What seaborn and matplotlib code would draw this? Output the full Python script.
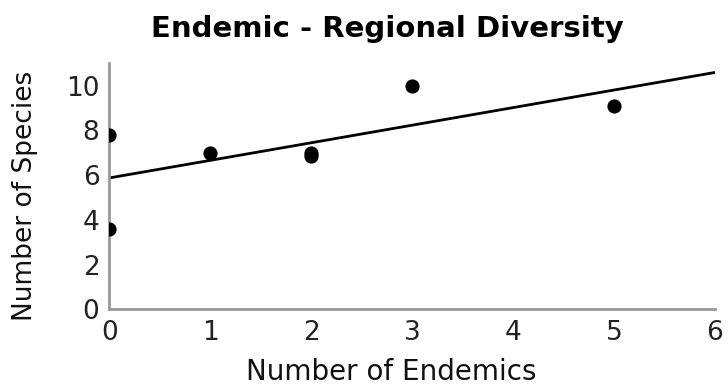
import numpy as np
import pandas as pd
import matplotlib
matplotlib.use("Agg")
import matplotlib.pyplot as plt
import seaborn as sns

# values
endemics = [0, 0, 1, 2, 2, 3, 5]
species = [7.8, 3.6, 7.0, 7.0, 6.85, 10.0, 9.1]
x_ticks = [0, 1, 2, 3, 4, 5, 6]
y_ticks = [0, 2, 4, 6, 8, 10]


def plot_endemic_diversity(df):
    """Scatter of species vs endemics with a fitted line."""
    sns.set_style("white")
    plt.rcParams['font.family'] = ['DejaVu Sans']

    fig = plt.figure(figsize=(7.28, 3.89), dpi=100)
    ax = fig.add_axes([0.15, 0.205, 0.832, 0.632])
    ax.set_xlim(0, 6)
    ax.set_ylim(0, 11)

    sns.regplot(x='endemics', y='species', data=df, ax=ax, ci=None,
                truncate=False, color='black',
                scatter_kws={'s': 85, 'alpha': 1, 'zorder': 3},
                line_kws={'linewidth': 2})

    ax.set_xlim(0, 6)
    ax.set_ylim(0, 11)
    ax.set_xticks(x_ticks)
    ax.set_yticks(y_ticks)
    ax.tick_params(labelsize=19, colors='#bbbbbb', labelcolor='#222222',
                   direction='in', length=4)
    ax.tick_params(axis='x', pad=8)
    ax.tick_params(axis='y', pad=7)
    sns.despine(ax=ax)
    for side in ['left', 'bottom']:
        ax.spines[side].set_color('#999999')
        ax.spines[side].set_linewidth(2)

    ax.set_title("Endemic - Regional Diversity", fontsize=21, color='black',
                 fontweight='bold', pad=19, x=0.46)
    ax.set_xlabel("Number of Endemics", fontsize=20, color='#111111')
    ax.set_ylabel("Number of Species", fontsize=19, color='#111111')
    ax.xaxis.set_label_coords(0.465, -0.2)
    ax.yaxis.set_label_coords(-0.118, 0.46)

    fig.savefig("out.png", dpi=100)


if __name__ == "__main__":
    df = pd.DataFrame({'endemics': endemics, 'species': species})
    plot_endemic_diversity(df)
